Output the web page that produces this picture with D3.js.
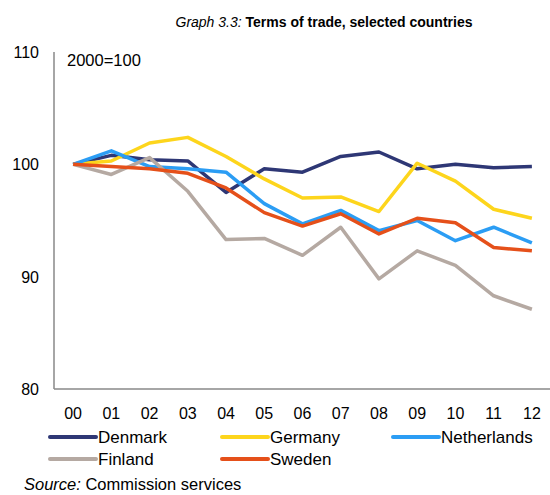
<!DOCTYPE html>
<html>
<head>
<meta charset="utf-8">
<script src="https://cdn.jsdelivr.net/npm/d3@7"></script>
<style>
  body { margin: 0; background: #fff; }
  svg { font-family: "Liberation Sans", Arial, sans-serif; }
</style>
</head>
<body>
<script>
// years and series (terms of trade, 2000=100)
const years = ["00", "01", "02", "03", "04", "05", "06", "07", "08", "09", "10", "11", "12"];
const denmark = [100, 100.8, 100.4, 100.3, 97.5, 99.6, 99.3, 100.7, 101.1, 99.6, 100.0, 99.7, 99.8];
const germany = [100, 100.3, 101.9, 102.4, 100.7, 98.7, 97.0, 97.1, 95.8, 100.1, 98.5, 96.0, 95.2];
const netherlands = [100, 101.2, 99.8, 99.6, 99.3, 96.5, 94.7, 95.9, 94.1, 95.0, 93.2, 94.4, 93.0];
const finland = [100, 99.1, 100.6, 97.6, 93.3, 93.4, 91.9, 94.4, 89.8, 92.3, 91.0, 88.3, 87.1];
const sweden = [100, 99.8, 99.6, 99.2, 97.9, 95.7, 94.5, 95.6, 93.8, 95.2, 94.8, 92.6, 92.3];
const yTicks = [80, 90, 100, 110];

const series = [
  { name: "Denmark", values: denmark, color: "#2e3775" },
  { name: "Germany", values: germany, color: "#fdd51c" },
  { name: "Netherlands", values: netherlands, color: "#2b9df4" },
  { name: "Finland", values: finland, color: "#b5a9a2" },
  { name: "Sweden", values: sweden, color: "#e5501a" }
];

const width = 550, height = 495;
const svg = d3.select("body").append("svg")
  .attr("width", width)
  .attr("height", height);

const x = d3.scaleBand().domain(years).range([54, 551]);
const y = d3.scaleLinear().domain([80, 110]).range([389, 52]);

// title
const title = svg.append("text")
  .attr("x", 324).attr("y", 27)
  .attr("text-anchor", "middle")
  .style("font-size", "14px");
title.append("tspan").style("font-style", "italic").text("Graph 3.3: ");
title.append("tspan").style("font-weight", "bold").text("Terms of trade, selected countries");

// axes
svg.append("line")
  .attr("x1", 54).attr("x2", 54)
  .attr("y1", y(110)).attr("y2", y(80))
  .attr("stroke", "#888").attr("stroke-width", 1.5);
svg.append("line")
  .attr("x1", 54).attr("x2", 551)
  .attr("y1", y(80)).attr("y2", y(80))
  .attr("stroke", "#888").attr("stroke-width", 1.5);

svg.selectAll(".ylab")
  .data(yTicks)
  .join("text")
  .attr("class", "ylab")
  .attr("x", 39).attr("y", d => y(d) + 6)
  .attr("text-anchor", "end")
  .style("font-size", "16px")
  .text(d => d);

svg.selectAll(".xlab")
  .data(years)
  .join("text")
  .attr("class", "xlab")
  .attr("x", d => x(d) + x.bandwidth() / 2)
  .attr("y", 419)
  .attr("text-anchor", "middle")
  .style("font-size", "16px")
  .text(d => d);

svg.append("text")
  .attr("x", 67).attr("y", 66)
  .style("font-size", "16.5px")
  .text("2000=100");

// lines
const line = d3.line()
  .x((d, i) => x(years[i]) + x.bandwidth() / 2)
  .y(d => y(d));

svg.selectAll(".series")
  .data(series)
  .join("path")
  .attr("class", "series")
  .attr("d", d => line(d.values))
  .attr("fill", "none")
  .attr("stroke", d => d.color)
  .attr("stroke-width", 3.5)
  .attr("stroke-linejoin", "round");

// legend
const legendPos = [[50, 437], [222, 437], [393, 437], [50, 459], [222, 459]];
const legend = svg.selectAll(".legend")
  .data(series)
  .join("g")
  .attr("class", "legend")
  .attr("transform", (d, i) => `translate(${legendPos[i][0]},${legendPos[i][1]})`);

legend.append("line")
  .attr("x1", 0).attr("x2", 46)
  .attr("stroke", d => d.color)
  .attr("stroke-width", 4)
  .attr("stroke-linecap", "round");
legend.append("text")
  .attr("x", 48).attr("y", 6)
  .style("font-size", "17px")
  .text(d => d.name);

// source (reference shows it at the very bottom edge)
const src = svg.append("text")
  .attr("x", 24).attr("y", 490)
  .style("font-size", "16.5px");
src.append("tspan").style("font-style", "italic").text("Source: ");
src.append("tspan").text("Commission services");
</script>
</body>
</html>
